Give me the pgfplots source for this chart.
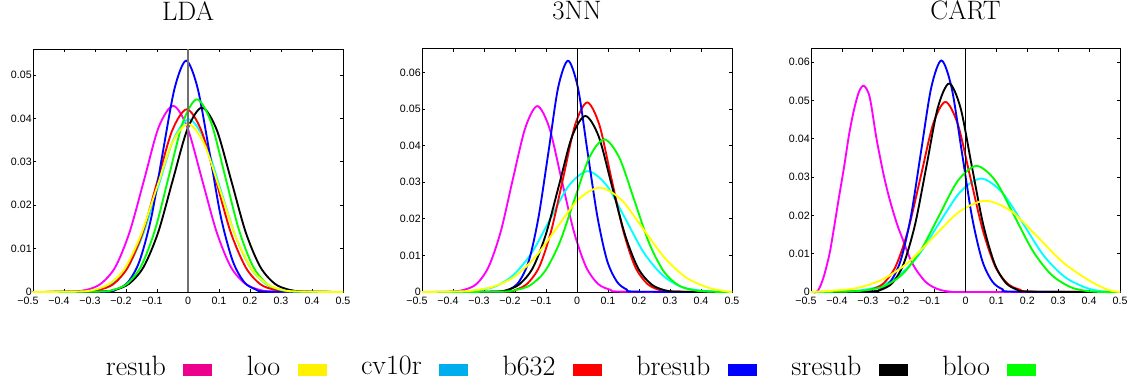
\documentclass[border=0pt]{standalone}
\usepackage{fontspec}
\newfontfamily\tickfont{Liberation Sans}
\usepackage{pgfplots}
\pgfplotsset{compat=1.18}
\definecolor{legmag}{HTML}{EC008C}
\definecolor{legyel}{HTML}{FFF200}
\definecolor{legcya}{HTML}{00AEEF}
\definecolor{cmag}{rgb}{1,0,1}
\definecolor{cyel}{rgb}{1,1,0}
\definecolor{ccya}{rgb}{0,1,1}
\definecolor{cred}{rgb}{1,0,0}
\definecolor{cblu}{rgb}{0,0,1}
\definecolor{cgre}{rgb}{0,1,0}
\definecolor{zgray}{HTML}{707070}
\newcommand\nl[1]{#1\hspace*{7.5pt}}
\pgfplotsset{
  panel/.style={
    scale only axis, width=232.5pt, height=182.25pt,
    xmin=-0.5, xmax=0.5, ymin=0,
    clip=false,
    axis line style={line width=0.75pt},
    tick align=inside, major tick length=2.25pt,
    every tick/.style={black, line width=0.6pt},
    xtick={-0.5,-0.4,-0.3,-0.2,-0.1,0,0.1,0.2,0.3,0.4,0.5},
    xticklabels={\nl{−0.5},\nl{−0.4},\nl{−0.3},\nl{−0.2},\nl{−0.1},0,0.1,0.2,0.3,0.4,0.5},
    ticklabel style={font=\tickfont\fontsize{8}{9}\selectfont, inner sep=0pt},
    xticklabel style={anchor=north, yshift=-3.75pt},
    yticklabel style={anchor=east, xshift=-0.75pt},
    title style={font=\fontsize{20}{24}\selectfont, at={(0.5,1)}, anchor=base, yshift=15.75pt},
    scaled ticks=false,
  },
  cv/.style={line width=1.4pt, smooth, forget plot},
  swatch/.style={legend image code/.code={\fill[##1] (0pt,-7.3pt) rectangle (21.75pt,1.7pt);}, draw=none},
}
\begin{document}
\begin{tikzpicture}
\path[use as bounding box] (0pt,0pt) rectangle (847.5pt,286.5pt);

% ---------------- LDA ----------------
\begin{axis}[panel, at={(24.75pt,67.5pt)}, anchor=south west, ymax=0.056,
  ytick={0,0.01,0.02,0.03,0.04,0.05}, yticklabels={0,0.01,0.02,0.03,0.04,0.05},
  title={LDA}]
% resub
\addplot[cv, cmag] coordinates {(-0.5,0) (-0.374,0.0001) (-0.327,0.0005) (-0.281,0.0019) (-0.234,0.0058) (-0.188,0.0139) (-0.141,0.0260) (-0.095,0.0379) (-0.048,0.0429) (-0.002,0.0379) (0.045,0.0260) (0.092,0.0139) (0.138,0.0058) (0.185,0.0019) (0.231,0.0005) (0.278,0.0001) (0.5,0)};
% cv10r
\addplot[cv, ccya] coordinates {(-0.5,0) (-0.348,0.0001) (-0.298,0.0004) (-0.248,0.0017) (-0.197,0.0054) (-0.147,0.0129) (-0.097,0.0241) (-0.047,0.0351) (0.003,0.0398) (0.053,0.0351) (0.103,0.0241) (0.153,0.0129) (0.203,0.0054) (0.254,0.0017) (0.304,0.0004) (0.354,0.0001) (0.5,0)};
% b632
\addplot[cv, cred] coordinates {(-0.5,0) (-0.336,0.0001) (-0.288,0.0005) (-0.241,0.0018) (-0.194,0.0057) (-0.146,0.0137) (-0.099,0.0255) (-0.051,0.0372) (-0.004,0.0421) (0.043,0.0372) (0.091,0.0255) (0.138,0.0137) (0.186,0.0057) (0.233,0.0018) (0.280,0.0005) (0.328,0.0001) (0.5,0)};
% bresub
\addplot[cv, cblu] coordinates {(-0.5,0) (-0.268,0.0001) (-0.230,0.0006) (-0.193,0.0023) (-0.156,0.0072) (-0.118,0.0173) (-0.081,0.0323) (-0.043,0.0470) (-0.006,0.0533) (0.031,0.0470) (0.069,0.0323) (0.106,0.0173) (0.144,0.0072) (0.181,0.0023) (0.218,0.0006) (0.256,0.0001) (0.5,0)};
% sresub
\addplot[cv, black] coordinates {(-0.5,0) (-0.284,0.0001) (-0.237,0.0005) (-0.190,0.0019) (-0.143,0.0058) (-0.096,0.0138) (-0.049,0.0258) (-0.002,0.0375) (0.045,0.0425) (0.092,0.0375) (0.139,0.0258) (0.186,0.0138) (0.233,0.0058) (0.280,0.0019) (0.327,0.0005) (0.374,0.0001) (0.5,0)};
% bloo
\addplot[cv, cgre] coordinates {(-0.5,0) (-0.285,0.0001) (-0.240,0.0005) (-0.196,0.0019) (-0.151,0.0060) (-0.106,0.0144) (-0.061,0.0269) (-0.016,0.0392) (0.029,0.0444) (0.074,0.0392) (0.119,0.0269) (0.164,0.0144) (0.209,0.0060) (0.254,0.0019) (0.298,0.0005) (0.343,0.0001) (0.5,0)};
% loo
\addplot[cv, cyel] coordinates {(-0.5,0) (-0.361,0.0001) (-0.309,0.0004) (-0.258,0.0017) (-0.206,0.0052) (-0.155,0.0126) (-0.103,0.0235) (-0.052,0.0342) (0,0.0387) (0.052,0.0342) (0.103,0.0235) (0.155,0.0126) (0.206,0.0052) (0.258,0.0017) (0.309,0.0004) (0.361,0.0001) (0.5,0)};
\addplot[zgray, line width=1.2pt, forget plot] coordinates {(0,0) (0,0.056)};
\end{axis}

% ---------------- 3NN ----------------
\begin{axis}[panel, at={(316.5pt,67.5pt)}, anchor=south west, ymax=0.0664,
  ytick={0,0.01,0.02,0.03,0.04,0.05,0.06}, yticklabels={0,0.01,0.02,0.03,0.04,0.05,0.06},
  title={3NN},
  legend columns=7, legend plot pos=right, legend cell align=left,
  legend style={at={(-1.0194,-0.3498)}, anchor=south west, draw=none, fill=none,
    inner sep=0pt, outer sep=0pt, font=\fontsize{21}{25}\selectfont,
    nodes={inner sep=0pt},
    /tikz/every odd column/.append style={column sep=13pt},
    /tikz/every even column/.append style={column sep=25.9pt}}]
% resub
\addplot[cv, cmag] coordinates {(-0.5,0) (-0.403,0.0001) (-0.364,0.0006) (-0.324,0.0022) (-0.285,0.0069) (-0.246,0.0165) (-0.207,0.0308) (-0.167,0.0448) (-0.128,0.0508) (-0.089,0.0448) (-0.050,0.0308) (-0.010,0.0165) (0.029,0.0069) (0.068,0.0022) (0.108,0.0006) (0.147,0.0001) (0.5,0)};
% cv10r
\addplot[cv, ccya] coordinates {(-0.5,0) (-0.388,0.0001) (-0.328,0.0004) (-0.267,0.0014) (-0.207,0.0045) (-0.146,0.0107) (-0.086,0.0200) (-0.026,0.0291) (0.035,0.0330) (0.096,0.0291) (0.156,0.0200) (0.216,0.0107) (0.277,0.0045) (0.337,0.0014) (0.398,0.0004) (0.458,0.0001) (0.5,0)};
% b632
\addplot[cv, cred] coordinates {(-0.5,0) (-0.237,0.0001) (-0.198,0.0006) (-0.160,0.0023) (-0.121,0.0070) (-0.083,0.0168) (-0.044,0.0314) (-0.006,0.0457) (0.033,0.0518) (0.072,0.0457) (0.110,0.0314) (0.149,0.0168) (0.187,0.0070) (0.226,0.0023) (0.264,0.0006) (0.303,0.0001) (0.5,0)};
% bresub
\addplot[cv, cblu] coordinates {(-0.5,0) (-0.250,0.0001) (-0.218,0.0007) (-0.187,0.0028) (-0.155,0.0086) (-0.124,0.0205) (-0.092,0.0383) (-0.061,0.0558) (-0.029,0.0632) (0.003,0.0558) (0.034,0.0383) (0.066,0.0205) (0.097,0.0086) (0.129,0.0028) (0.160,0.0007) (0.192,0.0001) (0.5,0)};
% sresub
\addplot[cv, black] coordinates {(-0.5,0) (-0.271,0.0001) (-0.228,0.0005) (-0.186,0.0021) (-0.143,0.0065) (-0.101,0.0156) (-0.058,0.0292) (-0.016,0.0425) (0.027,0.0481) (0.070,0.0425) (0.112,0.0292) (0.155,0.0156) (0.197,0.0065) (0.240,0.0021) (0.282,0.0005) (0.325,0.0001) (0.5,0)};
% bloo
\addplot[cv, cgre] coordinates {(-0.5,0) (-0.248,0.0001) (-0.200,0.0005) (-0.152,0.0018) (-0.104,0.0056) (-0.056,0.0135) (-0.008,0.0253) (0.040,0.0368) (0.088,0.0417) (0.136,0.0368) (0.184,0.0253) (0.232,0.0135) (0.280,0.0056) (0.328,0.0018) (0.376,0.0005) (0.424,0.0001) (0.5,0)};
% loo
\addplot[cv, cyel] coordinates {(-0.5,0) (-0.417,0.0001) (-0.347,0.0003) (-0.277,0.0013) (-0.207,0.0039) (-0.137,0.0093) (-0.067,0.0173) (0.003,0.0252) (0.073,0.0285) (0.143,0.0252) (0.213,0.0173) (0.283,0.0093) (0.353,0.0039) (0.423,0.0012) (0.480,0.0002) (0.5,0)};
\addplot[black, line width=0.75pt, forget plot] coordinates {(0,0) (0,0.0664)};
% legend
\addlegendimage{swatch, fill=legmag}
\addlegendentry{resub}
\addlegendimage{swatch, fill=legyel}
\addlegendentry{loo}
\addlegendimage{swatch, fill=legcya}
\addlegendentry{cv10r}
\addlegendimage{swatch, fill=red}
\addlegendentry{b632}
\addlegendimage{swatch, fill=blue}
\addlegendentry{bresub}
\addlegendimage{swatch, fill=black}
\addlegendentry{sresub}
\addlegendimage{swatch, fill=cgre}
\addlegendentry{bloo}
\end{axis}

% ---------------- CART ----------------
\begin{axis}[panel, at={(608.25pt,67.5pt)}, anchor=south west, width=231.75pt, ymax=0.0634,
  ytick={0,0.01,0.02,0.03,0.04,0.05,0.06}, yticklabels={0,0.01,0.02,0.03,0.04,0.05,0.06},
  title={CART}]
% resub
\addplot[cv, cmag] coordinates {(-0.5,0) (-0.482,0) (-0.470,0.0015) (-0.457,0.0045) (-0.440,0.0100) (-0.425,0.0170) (-0.410,0.0245) (-0.393,0.0326) (-0.377,0.0410) (-0.361,0.0475) (-0.345,0.0522) (-0.329,0.0538) (-0.310,0.0508) (-0.288,0.0400) (-0.265,0.0306) (-0.245,0.0240) (-0.222,0.0178) (-0.202,0.0135) (-0.180,0.0088) (-0.159,0.0057) (-0.130,0.0027) (-0.105,0.0013) (-0.080,0.0005) (-0.050,0.0001) (0,0) (0.5,0)};
% cv10r
\addplot[cv, ccya] coordinates {(-0.5,0) (-0.422,0.0001) (-0.354,0.0003) (-0.287,0.0013) (-0.220,0.0040) (-0.152,0.0096) (-0.085,0.0180) (-0.017,0.0261) (0.050,0.0296) (0.117,0.0261) (0.185,0.0180) (0.252,0.0096) (0.320,0.0040) (0.387,0.0012) (0.440,0.0002) (0.5,0)};
% b632
\addplot[cv, cred] coordinates {(-0.5,0) (-0.346,0.0001) (-0.306,0.0006) (-0.266,0.0022) (-0.226,0.0067) (-0.186,0.0161) (-0.145,0.0301) (-0.105,0.0438) (-0.065,0.0496) (-0.025,0.0438) (0.015,0.0301) (0.056,0.0161) (0.096,0.0067) (0.136,0.0022) (0.176,0.0006) (0.216,0.0001) (0.5,0)};
% bresub
\addplot[cv, cblu] coordinates {(-0.5,0) (-0.309,0.0001) (-0.276,0.0007) (-0.243,0.0027) (-0.210,0.0082) (-0.177,0.0196) (-0.144,0.0366) (-0.111,0.0533) (-0.078,0.0604) (-0.045,0.0533) (-0.012,0.0366) (0.021,0.0196) (0.054,0.0082) (0.087,0.0027) (0.120,0.0007) (0.153,0.0001) (0.5,0)};
% sresub
\addplot[cv, black] coordinates {(-0.5,0) (-0.310,0.0001) (-0.273,0.0006) (-0.236,0.0024) (-0.200,0.0074) (-0.163,0.0177) (-0.126,0.0330) (-0.090,0.0480) (-0.053,0.0544) (-0.016,0.0480) (0.020,0.0330) (0.057,0.0177) (0.094,0.0074) (0.130,0.0024) (0.167,0.0006) (0.204,0.0001) (0.5,0)};
% bloo
\addplot[cv, cgre] coordinates {(-0.5,0) (-0.388,0.0001) (-0.328,0.0004) (-0.267,0.0014) (-0.206,0.0045) (-0.146,0.0107) (-0.085,0.0200) (-0.025,0.0290) (0.036,0.0329) (0.097,0.0290) (0.157,0.0200) (0.218,0.0107) (0.278,0.0045) (0.339,0.0013) (0.390,0.0003) (0.440,0) (0.5,0)};
% loo
\addplot[cv, cyel] coordinates {(-0.5,0) (-0.438,0.0003) (-0.354,0.0010) (-0.270,0.0032) (-0.186,0.0077) (-0.103,0.0144) (-0.019,0.0210) (0.065,0.0238) (0.149,0.0210) (0.233,0.0144) (0.316,0.0077) (0.400,0.0030) (0.460,0.0006) (0.5,0)};
\addplot[black, line width=0.75pt, forget plot] coordinates {(0,0) (0,0.0634)};
\end{axis}
\end{tikzpicture}
\end{document}
